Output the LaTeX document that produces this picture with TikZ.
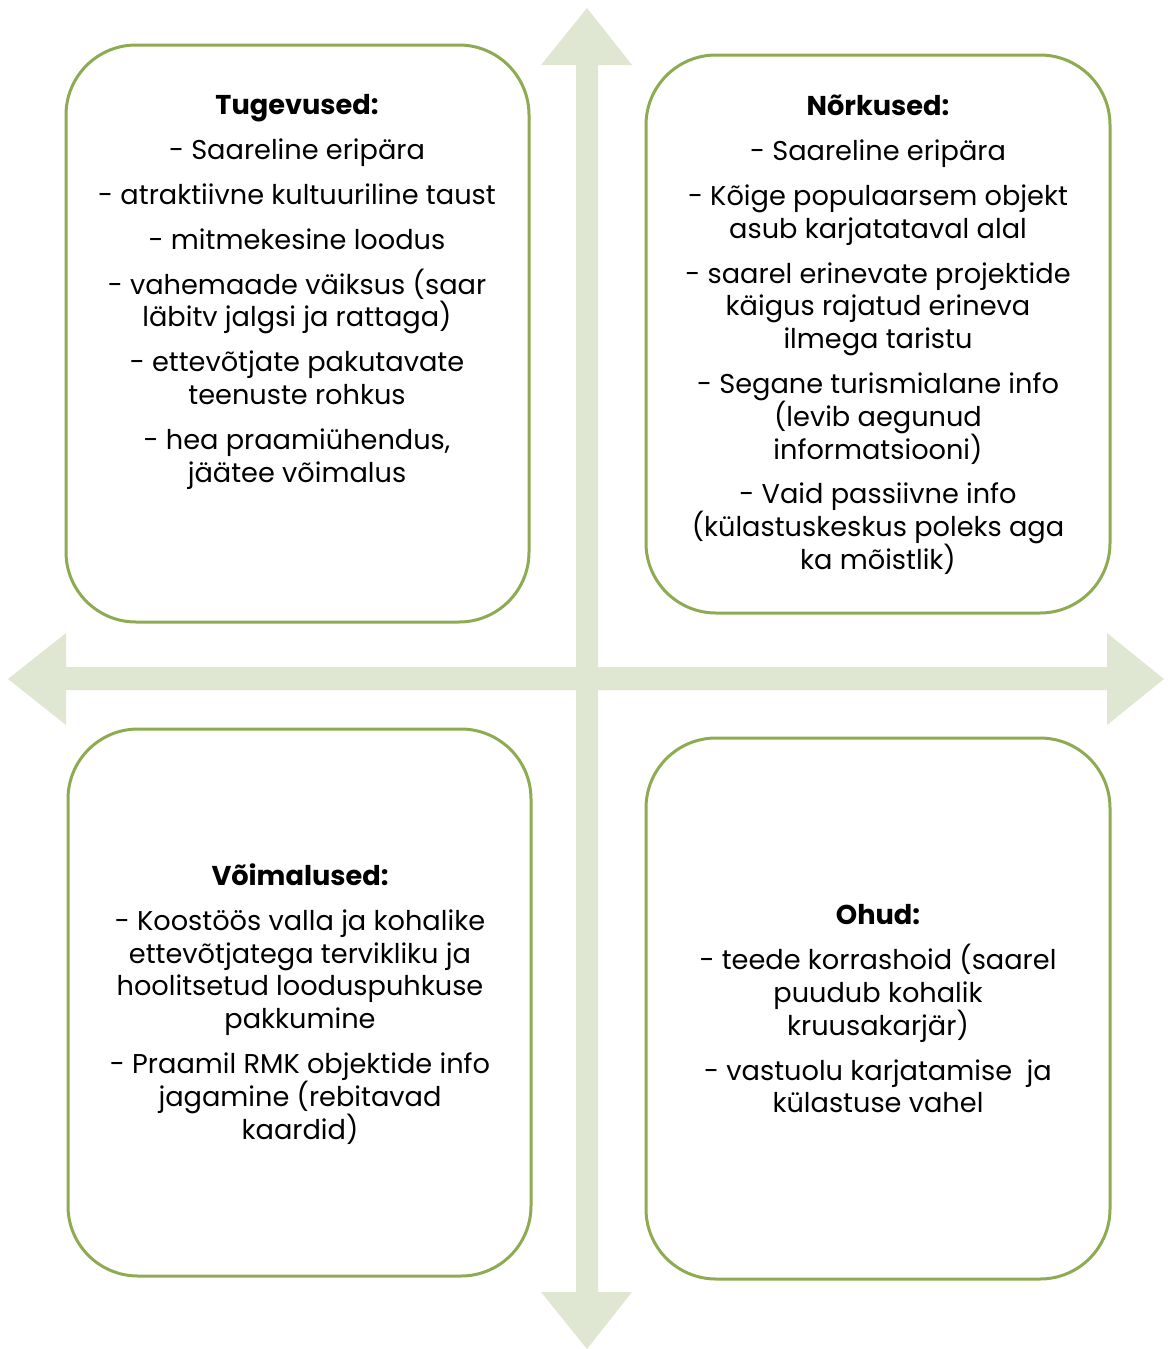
\documentclass[tikz,border=0pt]{standalone}
\usepackage{fontspec}
\setmainfont{Poppins}
\usetikzlibrary{positioning}
\definecolor{swotline}{rgb}{0.56, 0.67, 0.32}
\definecolor{swotarrow}{rgb}{0.875, 0.906, 0.824}
\tikzstyle{swotbox} = [draw = swotline, line width = 1.5pt, rounded corners = 35pt, fill = white]
\tikzstyle{swottext} = [align = center, text = black, inner sep = 0pt, font = \fontsize{13.6}{16.4}\selectfont]
\tikzstyle{swotcross} = [fill = swotarrow, draw = none]
\newcommand{\swotgap}{\\[6pt]}

\begin{document}
\begin{tikzpicture}[x = 0.5pt, y = -0.5pt]
\useasboundingbox (0,0) rectangle (1169,1349);
% cross of arrows
\fill[swotcross] (576,65) -- (541,65) -- (587,8) -- (632,65) -- (598,65) -- (598,1292) -- (632,1292) -- (587,1349) -- (541,1292) -- (576,1292) -- cycle;
\fill[swotcross] (66,667) -- (66,633) -- (8,679) -- (66,725) -- (66,690) -- (1107,690) -- (1107,725) -- (1164,679) -- (1107,633) -- (1107,667) -- cycle;
% boxes
\node[swotbox, minimum width = 231.5pt, minimum height = 288.5pt] (tug) at (297.5,333.5) {};
\node[swotbox, minimum width = 232pt, minimum height = 279pt] (nork) at (878,334) {};
\node[swotbox, minimum width = 231.5pt, minimum height = 273.5pt] (voim) at (299.5,1002.5) {};
\node[swotbox, minimum width = 232pt, minimum height = 270.5pt] (ohud) at (878,1008.5) {};
% texts
\node[swottext] (tugtext) at (297,292) {\textbf{Tugevused:}\swotgap
- Saareline eripära\swotgap
- atraktiivne kultuuriline taust\swotgap
- mitmekesine loodus\swotgap
- vahemaade väiksus (saar\\läbitv jalgsi ja rattaga)\swotgap
- ettevõtjate pakutavate\\teenuste rohkus\swotgap
- hea praamiühendus,\\jäätee võimalus};
\node[swottext] (norktext) at (878,335) {\textbf{Nõrkused:}\swotgap
- Saareline eripära\swotgap
- Kõige populaarsem objekt\\asub karjatataval alal\swotgap
- saarel erinevate projektide\\käigus rajatud erineva\\ilmega taristu\swotgap
- Segane turismialane info\\(levib aegunud\\informatsiooni)\swotgap
- Vaid passiivne info\\(külastuskeskus poleks aga\\ka mõistlik)};
\node[swottext] (voimtext) at (300,1004) {\textbf{Võimalused:}\swotgap
- Koostöös valla ja kohalike\\ettevõtjatega tervikliku ja\\hoolitsetud looduspuhkuse\\pakkumine\swotgap
- Praamil RMK objektide info\\jagamine (rebitavad\\kaardid)};
\node[swottext] (ohudtext) at (878,1009) {\textbf{Ohud:}\swotgap
- teede korrashoid (saarel\\puudub kohalik\\kruusakarjär)\swotgap
- vastuolu karjatamise~ ja\\külastuse vahel};
\end{tikzpicture}
\end{document}
